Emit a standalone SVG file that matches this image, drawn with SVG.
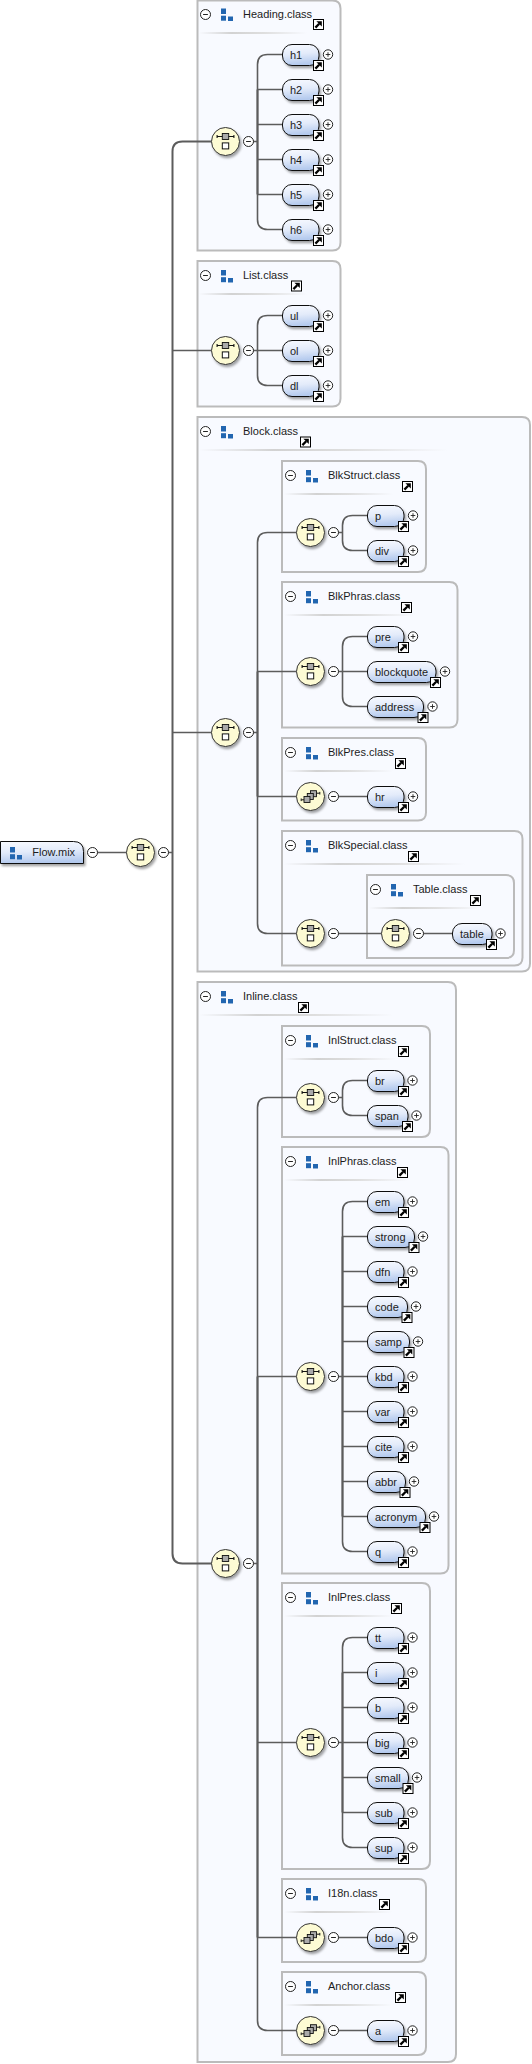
<svg xmlns="http://www.w3.org/2000/svg" width="532" height="2064" viewBox="0 0 532 2064">
<style>
.box{fill:#f8faff;stroke:#bbb;stroke-width:2}
.t{font-family:"Liberation Sans",Arial,sans-serif;font-size:11px;fill:#1c1c1c}
.pill{fill:url(#pg);stroke:#111;stroke-width:1;filter:url(#sh)}
.sep{fill:url(#sg)}
.c{fill:none;stroke:#5c5c5c;stroke-width:1.6}
.trunk{fill:none;stroke:#5c5c5c;stroke-width:2}
.ring{fill:#fff;stroke:#222;stroke-width:1}
.seq{fill:#fdfbd4;stroke:#333;stroke-width:1;filter:url(#sh)}
.g{fill:#aaa;stroke:#111;stroke-width:.9}
.w{fill:#fff;stroke:#111;stroke-width:1}
.i{fill:#2266b0}
</style>
<defs>
<linearGradient id="pg" x1="0" y1="0" x2=".15" y2="1"><stop offset="0" stop-color="#f8faff"/><stop offset=".5" stop-color="#e3ebfa"/><stop offset="1" stop-color="#b4caee"/></linearGradient>
<linearGradient id="sg" x1="0" y1="0" x2="1" y2="0"><stop offset="0" stop-color="#f8faff"/><stop offset=".3" stop-color="#d2d2d2"/><stop offset=".6" stop-color="#dedede"/><stop offset="1" stop-color="#f8faff"/></linearGradient>
<filter id="sh" x="-20%" y="-20%" width="150%" height="150%"><feDropShadow dx="1.6" dy="2.2" stdDeviation="1" flood-color="#000" flood-opacity=".36"/></filter>
<g id="lnk"><rect x=".5" y=".5" width="10" height="10" fill="#fff" stroke="#000"/><path d="M2.4 8.6L6.2 4.8" stroke="#000" stroke-width="2.3" fill="none"/><path d="M3.4 2.2H8.8V7.6Z" fill="#000"/></g>
<g id="plus"><circle class="ring" r="4.7"/><path d="M-2.3 0H2.3M0-2.3V2.3" stroke="#222" stroke-width=".9"/></g>
<g id="minus"><circle class="ring" r="5"/><path d="M-2.4 0H2.4" stroke="#222" stroke-width="1"/></g>
<g id="icon"><rect class="i" width="5" height="5.5"/><rect class="i" y="7.2" width="5" height="5"/><rect class="i" x="7" y="8" width="5" height="4.5"/></g>
<g id="s"><circle class="seq" r="14"/><path d="M-8-5H8M-8.4-6.6V-3.4M8.4-6.6V-3.4" stroke="#111" stroke-width="1.1" fill="none"/><rect class="g" x="-3.2" y="-8" width="6.4" height="6"/><rect class="w" x="-3.2" y="1.4" width="6.4" height="6"/></g>
<g id="ch"><circle class="seq" r="14"/><path d="M-9 3.3H-6M6-3.3H9M-9.3 2V4.6M9.3-4.6V-2" stroke="#111" stroke-width="1" fill="none"/><rect class="g" x="0" y="-5.8" width="6" height="6"/><rect class="g" x="-3.2" y="-3" width="6" height="6"/><rect class="g" x="-6.5" y="0" width="6" height="6"/></g>
</defs>

<g id="grp-heading"><path class="box" d="M197.5 .5H332.5Q340.5 .5 340.5 8.5V242.5Q340.5 250.5 332.5 250.5H197.5Z"/><use href="#minus" x="205.5" y="14.5"/><use href="#icon" x="221" y="8.5"/><text class="t" x="243" y="18">Heading.class</text><use href="#lnk" x="313" y="19"/><rect class="sep" x="199" y="32" width="108" height="2"/></g>
<g id="grp-list"><path class="box" d="M197.5 261H332.5Q340.5 261 340.5 269V398.5Q340.5 406.5 332.5 406.5H197.5Z"/><use href="#minus" x="205.5" y="275.5"/><use href="#icon" x="221" y="270"/><text class="t" x="243" y="279">List.class</text><use href="#lnk" x="291" y="280.5"/><rect class="sep" x="199" y="293" width="108" height="2"/></g>
<g id="grp-block"><path class="box" d="M197.5 417H522Q530 417 530 425V963.5Q530 971.5 522 971.5H197.5Z"/><use href="#minus" x="205.5" y="431.5"/><use href="#icon" x="221" y="426"/><text class="t" x="243" y="435">Block.class</text><use href="#lnk" x="300" y="436.5"/><rect class="sep" x="199" y="449" width="249" height="2"/></g>
<g id="grp-blkstruct"><path class="box" d="M282 461H418Q426 461 426 469V564Q426 572 418 572H282Z"/><use href="#minus" x="290.5" y="475.5"/><use href="#icon" x="306" y="470"/><text class="t" x="328" y="479">BlkStruct.class</text><use href="#lnk" x="402" y="481"/><rect class="sep" x="284" y="493" width="109" height="2"/></g>
<g id="grp-blkphras"><path class="box" d="M282 582H449.5Q457.5 582 457.5 590V719.5Q457.5 727.5 449.5 727.5H282Z"/><use href="#minus" x="290.5" y="596.5"/><use href="#icon" x="306" y="591"/><text class="t" x="328" y="600">BlkPhras.class</text><use href="#lnk" x="401" y="602"/><rect class="sep" x="284" y="614" width="131" height="2"/></g>
<g id="grp-blkpres"><path class="box" d="M282 738H418Q426 738 426 746V812.5Q426 820.5 418 820.5H282Z"/><use href="#minus" x="290.5" y="752.5"/><use href="#icon" x="306" y="747"/><text class="t" x="328" y="756">BlkPres.class</text><use href="#lnk" x="395" y="758"/><rect class="sep" x="284" y="770" width="109" height="2"/></g>
<g id="grp-blkspecial"><path class="box" d="M282 831H514.5Q522.5 831 522.5 839V957.5Q522.5 965.5 514.5 965.5H282Z"/><use href="#minus" x="290.5" y="845.5"/><use href="#icon" x="306" y="840"/><text class="t" x="328" y="849">BlkSpecial.class</text><use href="#lnk" x="408" y="851"/><rect class="sep" x="284" y="863" width="181" height="2"/></g>
<g id="grp-table"><path class="box" d="M367 875H506Q514 875 514 883V950Q514 958 506 958H367Z"/><use href="#minus" x="375.5" y="889.5"/><use href="#icon" x="391" y="884"/><text class="t" x="413" y="893">Table.class</text><use href="#lnk" x="470" y="895"/><rect class="sep" x="369" y="907" width="111" height="2"/></g>
<g id="grp-inline"><path class="box" d="M197.5 982H448Q456 982 456 990V2054Q456 2062 448 2062H197.5Z"/><use href="#minus" x="205.5" y="996.5"/><use href="#icon" x="221" y="991"/><text class="t" x="243" y="1000">Inline.class</text><use href="#lnk" x="298" y="1002"/><rect class="sep" x="199" y="1014" width="194" height="2"/></g>
<g id="grp-inlstruct"><path class="box" d="M282 1026H422Q430 1026 430 1034V1129Q430 1137 422 1137H282Z"/><use href="#minus" x="290.5" y="1040.5"/><use href="#icon" x="306" y="1035"/><text class="t" x="328" y="1044">InlStruct.class</text><use href="#lnk" x="398" y="1046"/><rect class="sep" x="284" y="1058" width="113" height="2"/></g>
<g id="grp-inlphras"><path class="box" d="M282 1147H440.5Q448.5 1147 448.5 1155V1565.5Q448.5 1573.5 440.5 1573.5H282Z"/><use href="#minus" x="290.5" y="1161.5"/><use href="#icon" x="306" y="1156"/><text class="t" x="328" y="1165">InlPhras.class</text><use href="#lnk" x="397" y="1167"/><rect class="sep" x="284" y="1179" width="124" height="2"/></g>
<g id="grp-inlpres"><path class="box" d="M282 1583H422Q430 1583 430 1591V1861Q430 1869 422 1869H282Z"/><use href="#minus" x="290.5" y="1597.5"/><use href="#icon" x="306" y="1592"/><text class="t" x="328" y="1601">InlPres.class</text><use href="#lnk" x="391" y="1603"/><rect class="sep" x="284" y="1615" width="109" height="2"/></g>
<g id="grp-i18n"><path class="box" d="M282 1879H418Q426 1879 426 1887V1954Q426 1962 418 1962H282Z"/><use href="#minus" x="290.5" y="1893.5"/><use href="#icon" x="306" y="1888"/><text class="t" x="328" y="1897">I18n.class</text><use href="#lnk" x="379" y="1899"/><rect class="sep" x="284" y="1911" width="108" height="2"/></g>
<g id="grp-anchor"><path class="box" d="M282 1972H418Q426 1972 426 1980V2047Q426 2055 418 2055H282Z"/><use href="#minus" x="290.5" y="1986.5"/><use href="#icon" x="306" y="1981"/><text class="t" x="328" y="1990">Anchor.class</text><use href="#lnk" x="395" y="1992"/><rect class="sep" x="284" y="2004" width="108" height="2"/></g>

<g id="connectors">
<path class="c" d="M92 852.5H126.5M163.5 852.5H172.5"/>
<path class="trunk" d="M211.5 141.5H182.5Q172.5 141.5 172.5 151.5V1553.5Q172.5 1563.5 182.5 1563.5H211.5"/>
<path class="c" d="M172.5 350.5H211.5M172.5 732.5H211.5"/>
<path class="c" d="M248.5 141.5H257.5M282.5 54.5H267.5Q257.5 54.5 257.5 64.5V219.5Q257.5 229.5 267.5 229.5H282.5M257.5 89.5H282.5M257.5 124.5H282.5M257.5 159.5H282.5M257.5 194.5H282.5"/>
<path class="trunk" d="M257.5 89.5V194.5"/>
<path class="c" d="M248.5 350.5H282.5M282.5 315.5H267.5Q257.5 315.5 257.5 325.5V375.5Q257.5 385.5 267.5 385.5H282.5"/>
<path class="c" d="M248.5 732.5H257.5M296.5 532.5H267.5Q257.5 532.5 257.5 542.5V923.5Q257.5 933.5 267.5 933.5H296.5M257.5 671.5H296.5M257.5 796.5H296.5"/>
<path class="trunk" d="M257.5 671.5V796.5"/>
<path class="c" d="M333.5 532.5H342.5M367.5 515.5H352.5Q342.5 515.5 342.5 525.5V540.5Q342.5 550.5 352.5 550.5H367.5"/>
<path class="c" d="M333.5 671.5H367.5M367.5 636.5H352.5Q342.5 636.5 342.5 646.5V696.5Q342.5 706.5 352.5 706.5H367.5"/>
<path class="c" d="M333.5 796.5H367.5M333.5 933.5H381.5M418.5 933.5H452.5"/>
<path class="c" d="M248.5 1563.5H257.5M296.5 1097.5H267.5Q257.5 1097.5 257.5 1107.5V2020.5Q257.5 2030.5 267.5 2030.5H296.5M257.5 1376.5H296.5M257.5 1742.5H296.5M257.5 1937.5H296.5"/>
<path class="trunk" d="M257.5 1376.5V1937.5"/>
<path class="c" d="M333.5 1097.5H342.5M367.5 1080.5H352.5Q342.5 1080.5 342.5 1090.5V1105.5Q342.5 1115.5 352.5 1115.5H367.5"/>
<path class="c" d="M333.5 1376.5H367.5M367.5 1201.5H352.5Q342.5 1201.5 342.5 1211.5V1541.5Q342.5 1551.5 352.5 1551.5H367.5M342.5 1236.5H367.5M342.5 1271.5H367.5M342.5 1306.5H367.5M342.5 1341.5H367.5M342.5 1411.5H367.5M342.5 1446.5H367.5M342.5 1481.5H367.5M342.5 1516.5H367.5"/>
<path class="trunk" d="M342.5 1236.5V1516.5"/>
<path class="c" d="M333.5 1742.5H367.5M367.5 1637.5H352.5Q342.5 1637.5 342.5 1647.5V1837.5Q342.5 1847.5 352.5 1847.5H367.5M342.5 1672.5H367.5M342.5 1707.5H367.5M342.5 1777.5H367.5M342.5 1812.5H367.5"/>
<path class="trunk" d="M342.5 1672.5V1812.5"/>
<path class="c" d="M333.5 1937.5H367.5M333.5 2030.5H367.5"/>
</g>

<g id="seq-root"><use href="#s" x="140.5" y="852.5"/><use href="#minus" x="163.5" y="852.5"/></g>
<g id="seq-heading"><use href="#s" x="225.5" y="141.5"/><use href="#minus" x="248.5" y="141.5"/></g>
<g id="seq-list"><use href="#s" x="225.5" y="350.5"/><use href="#minus" x="248.5" y="350.5"/></g>
<g id="seq-block"><use href="#s" x="225.5" y="732.5"/><use href="#minus" x="248.5" y="732.5"/></g>
<g id="seq-blkstruct"><use href="#s" x="310.5" y="532.5"/><use href="#minus" x="333.5" y="532.5"/></g>
<g id="seq-blkphras"><use href="#s" x="310.5" y="671.5"/><use href="#minus" x="333.5" y="671.5"/></g>
<g id="choice-blkpres"><use href="#ch" x="310.5" y="796.5"/><use href="#minus" x="333.5" y="796.5"/></g>
<g id="seq-blkspecial"><use href="#s" x="310.5" y="933.5"/><use href="#minus" x="333.5" y="933.5"/></g>
<g id="seq-table"><use href="#s" x="395.5" y="933.5"/><use href="#minus" x="418.5" y="933.5"/></g>
<g id="seq-inline"><use href="#s" x="225.5" y="1563.5"/><use href="#minus" x="248.5" y="1563.5"/></g>
<g id="seq-inlstruct"><use href="#s" x="310.5" y="1097.5"/><use href="#minus" x="333.5" y="1097.5"/></g>
<g id="seq-inlphras"><use href="#s" x="310.5" y="1376.5"/><use href="#minus" x="333.5" y="1376.5"/></g>
<g id="seq-inlpres"><use href="#s" x="310.5" y="1742.5"/><use href="#minus" x="333.5" y="1742.5"/></g>
<g id="choice-i18n"><use href="#ch" x="310.5" y="1937.5"/><use href="#minus" x="333.5" y="1937.5"/></g>
<g id="choice-anchor"><use href="#ch" x="310.5" y="2030.5"/><use href="#minus" x="333.5" y="2030.5"/></g>

<g id="flow-mix"><path d="M.5 841.5H73.5Q83.5 841.5 83.5 851.5V863.5H.5Z" fill="url(#pg)" stroke="#111" filter="url(#sh)"/><use href="#icon" x="10" y="847"/><text class="t" x="32.3" y="856">Flow.mix</text><use href="#minus" x="92.5" y="852.5"/></g>

<g id="e-h1"><rect class="pill" x="282.5" y="44.5" width="36.5" height="21" rx="9.5"/><text class="t" x="290" y="59">h1</text><use href="#lnk" x="313" y="60"/><use href="#plus" x="328" y="54.5"/></g>
<g id="e-h2"><rect class="pill" x="282.5" y="79.5" width="36.5" height="21" rx="9.5"/><text class="t" x="290" y="94">h2</text><use href="#lnk" x="313" y="95"/><use href="#plus" x="328" y="89.5"/></g>
<g id="e-h3"><rect class="pill" x="282.5" y="114.5" width="36.5" height="21" rx="9.5"/><text class="t" x="290" y="129">h3</text><use href="#lnk" x="313" y="130"/><use href="#plus" x="328" y="124.5"/></g>
<g id="e-h4"><rect class="pill" x="282.5" y="149.5" width="36.5" height="21" rx="9.5"/><text class="t" x="290" y="164">h4</text><use href="#lnk" x="313" y="165"/><use href="#plus" x="328" y="159.5"/></g>
<g id="e-h5"><rect class="pill" x="282.5" y="184.5" width="36.5" height="21" rx="9.5"/><text class="t" x="290" y="199">h5</text><use href="#lnk" x="313" y="200"/><use href="#plus" x="328" y="194.5"/></g>
<g id="e-h6"><rect class="pill" x="282.5" y="219.5" width="36.5" height="21" rx="9.5"/><text class="t" x="290" y="234">h6</text><use href="#lnk" x="313" y="235"/><use href="#plus" x="328" y="229.5"/></g>
<g id="e-ul"><rect class="pill" x="282.5" y="305.5" width="36.5" height="21" rx="9.5"/><text class="t" x="290" y="320">ul</text><use href="#lnk" x="313" y="321"/><use href="#plus" x="328" y="315.5"/></g>
<g id="e-ol"><rect class="pill" x="282.5" y="340.5" width="36.5" height="21" rx="9.5"/><text class="t" x="290" y="355">ol</text><use href="#lnk" x="313" y="356"/><use href="#plus" x="328" y="350.5"/></g>
<g id="e-dl"><rect class="pill" x="282.5" y="375.5" width="36.5" height="21" rx="9.5"/><text class="t" x="290" y="390">dl</text><use href="#lnk" x="313" y="391"/><use href="#plus" x="328" y="385.5"/></g>
<g id="e-p"><rect class="pill" x="367.5" y="505.5" width="36.5" height="21" rx="9.5"/><text class="t" x="375" y="520">p</text><use href="#lnk" x="398" y="521"/><use href="#plus" x="413" y="515.5"/></g>
<g id="e-div"><rect class="pill" x="367.5" y="540.5" width="36.5" height="21" rx="9.5"/><text class="t" x="375" y="555">div</text><use href="#lnk" x="398" y="556"/><use href="#plus" x="413" y="550.5"/></g>
<g id="e-pre"><rect class="pill" x="367.5" y="626.5" width="36.5" height="21" rx="9.5"/><text class="t" x="375" y="641">pre</text><use href="#lnk" x="398" y="642"/><use href="#plus" x="413" y="636.5"/></g>
<g id="e-blockquote"><rect class="pill" x="367.5" y="661.5" width="68.5" height="21" rx="9.5"/><text class="t" x="375" y="676">blockquote</text><use href="#lnk" x="430" y="677"/><use href="#plus" x="445" y="671.5"/></g>
<g id="e-address"><rect class="pill" x="367.5" y="696.5" width="56" height="21" rx="9.5"/><text class="t" x="375" y="711">address</text><use href="#lnk" x="417.5" y="712"/><use href="#plus" x="432.5" y="706.5"/></g>
<g id="e-hr"><rect class="pill" x="367.5" y="786.5" width="36.5" height="21" rx="9.5"/><text class="t" x="375" y="801">hr</text><use href="#lnk" x="398" y="802"/><use href="#plus" x="413" y="796.5"/></g>
<g id="e-table"><rect class="pill" x="452.5" y="923.5" width="39.5" height="21" rx="9.5"/><text class="t" x="460" y="938">table</text><use href="#lnk" x="486" y="939"/><use href="#plus" x="500.5" y="933.5"/></g>
<g id="e-br"><rect class="pill" x="367.5" y="1070.5" width="36.5" height="21" rx="9.5"/><text class="t" x="375" y="1085">br</text><use href="#lnk" x="398" y="1086"/><use href="#plus" x="412.5" y="1080.5"/></g>
<g id="e-span"><rect class="pill" x="367.5" y="1105.5" width="40.5" height="21" rx="9.5"/><text class="t" x="375" y="1120">span</text><use href="#lnk" x="402" y="1121"/><use href="#plus" x="416.5" y="1115.5"/></g>
<g id="e-em"><rect class="pill" x="367.5" y="1191.5" width="36.5" height="21" rx="9.5"/><text class="t" x="375" y="1206">em</text><use href="#lnk" x="398" y="1207"/><use href="#plus" x="412.5" y="1201.5"/></g>
<g id="e-strong"><rect class="pill" x="367.5" y="1226.5" width="47" height="21" rx="9.5"/><text class="t" x="375" y="1241">strong</text><use href="#lnk" x="408.5" y="1242"/><use href="#plus" x="423" y="1236.5"/></g>
<g id="e-dfn"><rect class="pill" x="367.5" y="1261.5" width="36.5" height="21" rx="9.5"/><text class="t" x="375" y="1276">dfn</text><use href="#lnk" x="398" y="1277"/><use href="#plus" x="412.5" y="1271.5"/></g>
<g id="e-code"><rect class="pill" x="367.5" y="1296.5" width="40" height="21" rx="9.5"/><text class="t" x="375" y="1311">code</text><use href="#lnk" x="401.5" y="1312"/><use href="#plus" x="416" y="1306.5"/></g>
<g id="e-samp"><rect class="pill" x="367.5" y="1331.5" width="42" height="21" rx="9.5"/><text class="t" x="375" y="1346">samp</text><use href="#lnk" x="403.5" y="1347"/><use href="#plus" x="418" y="1341.5"/></g>
<g id="e-kbd"><rect class="pill" x="367.5" y="1366.5" width="36.5" height="21" rx="9.5"/><text class="t" x="375" y="1381">kbd</text><use href="#lnk" x="398" y="1382"/><use href="#plus" x="412.5" y="1376.5"/></g>
<g id="e-var"><rect class="pill" x="367.5" y="1401.5" width="36.5" height="21" rx="9.5"/><text class="t" x="375" y="1416">var</text><use href="#lnk" x="398" y="1417"/><use href="#plus" x="412.5" y="1411.5"/></g>
<g id="e-cite"><rect class="pill" x="367.5" y="1436.5" width="36.5" height="21" rx="9.5"/><text class="t" x="375" y="1451">cite</text><use href="#lnk" x="398" y="1452"/><use href="#plus" x="412.5" y="1446.5"/></g>
<g id="e-abbr"><rect class="pill" x="367.5" y="1471.5" width="38" height="21" rx="9.5"/><text class="t" x="375" y="1486">abbr</text><use href="#lnk" x="399.5" y="1487"/><use href="#plus" x="414" y="1481.5"/></g>
<g id="e-acronym"><rect class="pill" x="367.5" y="1506.5" width="58" height="21" rx="9.5"/><text class="t" x="375" y="1521">acronym</text><use href="#lnk" x="419.5" y="1522"/><use href="#plus" x="434" y="1516.5"/></g>
<g id="e-q"><rect class="pill" x="367.5" y="1541.5" width="36.5" height="21" rx="9.5"/><text class="t" x="375" y="1556">q</text><use href="#lnk" x="398" y="1557"/><use href="#plus" x="412.5" y="1551.5"/></g>
<g id="e-tt"><rect class="pill" x="367.5" y="1627.5" width="36.5" height="21" rx="9.5"/><text class="t" x="375" y="1642">tt</text><use href="#lnk" x="398" y="1643"/><use href="#plus" x="412.5" y="1637.5"/></g>
<g id="e-i"><rect class="pill" x="367.5" y="1662.5" width="36.5" height="21" rx="9.5"/><text class="t" x="375" y="1677">i</text><use href="#lnk" x="398" y="1678"/><use href="#plus" x="412.5" y="1672.5"/></g>
<g id="e-b"><rect class="pill" x="367.5" y="1697.5" width="36.5" height="21" rx="9.5"/><text class="t" x="375" y="1712">b</text><use href="#lnk" x="398" y="1713"/><use href="#plus" x="412.5" y="1707.5"/></g>
<g id="e-big"><rect class="pill" x="367.5" y="1732.5" width="36.5" height="21" rx="9.5"/><text class="t" x="375" y="1747">big</text><use href="#lnk" x="398" y="1748"/><use href="#plus" x="412.5" y="1742.5"/></g>
<g id="e-small"><rect class="pill" x="367.5" y="1767.5" width="41" height="21" rx="9.5"/><text class="t" x="375" y="1782">small</text><use href="#lnk" x="402.5" y="1783"/><use href="#plus" x="417" y="1777.5"/></g>
<g id="e-sub"><rect class="pill" x="367.5" y="1802.5" width="36.5" height="21" rx="9.5"/><text class="t" x="375" y="1817">sub</text><use href="#lnk" x="398" y="1818"/><use href="#plus" x="412.5" y="1812.5"/></g>
<g id="e-sup"><rect class="pill" x="367.5" y="1837.5" width="36.5" height="21" rx="9.5"/><text class="t" x="375" y="1852">sup</text><use href="#lnk" x="398" y="1853"/><use href="#plus" x="412.5" y="1847.5"/></g>
<g id="e-bdo"><rect class="pill" x="367.5" y="1927.5" width="36.5" height="21" rx="9.5"/><text class="t" x="375" y="1942">bdo</text><use href="#lnk" x="398" y="1943"/><use href="#plus" x="412.5" y="1937.5"/></g>
<g id="e-a"><rect class="pill" x="367.5" y="2020.5" width="36.5" height="21" rx="9.5"/><text class="t" x="375" y="2035">a</text><use href="#lnk" x="398" y="2036"/><use href="#plus" x="412.5" y="2030.5"/></g>
</svg>
